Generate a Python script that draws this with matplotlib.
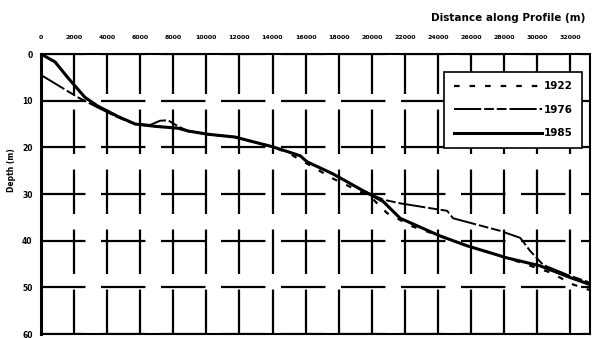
import matplotlib.pyplot as plt

# survey profiles: distance along profile (m) vs depth (m)
dist_1922 = [0, 850, 1630, 2660, 3450, 4660, 5690, 6900, 8290, 8890, 10100, 11740, 12600,
             14030, 15000, 16090, 17660, 19900, 20930, 22500, 24140, 25770, 28190, 30790, 32180, 33200]
depth_1922 = [0, 1.7, 5.1, 9.3, 11.2, 13.4, 15.0, 15.5, 15.9, 16.5, 17.2, 17.8, 18.6,
              19.9, 21.3, 23.5, 26.7, 30.5, 34.1, 37.0, 39.0, 41.1, 43.7, 46.8, 49.4, 50.6]

dist_1976 = [0, 2240, 3450, 4660, 5690, 6600, 7200, 7680, 8290, 8890, 10100, 11740, 12600,
             14030, 15670, 16090, 17660, 19480, 20690, 21720, 24000, 24560, 24920, 27770,
             28980, 29580, 30370, 31820, 33200]
depth_1976 = [4.5, 9.3, 11.5, 13.6, 15.0, 15.2, 14.3, 14.2, 15.5, 16.5, 17.2, 17.8, 18.6,
              19.9, 21.8, 23.1, 25.7, 29.3, 31.2, 32.0, 33.3, 33.6, 35.2, 37.9,
              39.4, 42.2, 45.2, 47.3, 49.0]

dist_1985 = [0, 850, 1630, 2660, 3450, 4660, 5690, 6900, 8290, 8890, 10100, 11740, 12600,
             14030, 15670, 16090, 17660, 19480, 20690, 21720, 24140, 25770, 28190, 30190, 32000, 33200]
depth_1985 = [0, 1.7, 5.1, 9.3, 11.2, 13.4, 15.0, 15.5, 15.9, 16.5, 17.2, 17.8, 18.6,
              19.9, 21.8, 23.1, 25.7, 29.3, 31.6, 35.2, 39.0, 41.1, 43.7, 45.4, 47.9, 49.4]

x_ticks = list(range(0, 32001, 2000))
y_ticks = [0, 10, 20, 30, 40, 50, 60]

fig = plt.figure(figsize=(5.93, 3.38), dpi=100)
ax = fig.add_axes([41 / 593, 4 / 338, 549 / 593, 280 / 338])

ax.plot(dist_1922, depth_1922, color='black', lw=1.6, linestyle=(0, (2.5, 4.5)), label='1922')
ax.plot(dist_1976, depth_1976, color='black', lw=1.4, linestyle=(0, (14, 1.5, 5, 1.5, 5, 1.5)),
        label='1976')
ax.plot(dist_1985, depth_1985, color='black', lw=2.2, linestyle='-', label='1985')

ax.set_xlim(0, 33200)
ax.set_ylim(60, 0)
ax.set_xticks(x_ticks)
ax.set_yticks(y_ticks)
ax.xaxis.tick_top()
ax.tick_params(axis='x', which='both', top=True, bottom=True, direction='in', length=4,
               width=1.2, labelsize=4.5, pad=10)
ax.tick_params(axis='y', direction='out', length=0, labelsize=5.5, pad=6)
for lab in ax.get_xticklabels() + ax.get_yticklabels():
    lab.set_fontweight('bold')

ax.grid(True, color='black', lw=1.6, linestyle=(0, (20, 7)))
for s in ax.spines.values():
    s.set_linewidth(1.5)
ax.spines['left'].set_linewidth(2.2)

fig.text(585 / 593, 1 - 18 / 338, 'Distance along Profile (m)', ha='right', va='center',
         fontsize=7.5, fontweight='bold')
fig.text(12 / 593, 1 - 170 / 338, 'Depth (m)', rotation=90, ha='center', va='center',
         fontsize=5.5, fontweight='bold')

leg = ax.legend(loc='upper right', bbox_to_anchor=(0.985, 0.936), fontsize=7.5,
                handlelength=8.5, handletextpad=0.1, labelspacing=1.3, borderpad=0.9,
                fancybox=False, framealpha=1, edgecolor='black', borderaxespad=0)
leg.get_frame().set_linewidth(1.2)
for t in leg.get_texts():
    t.set_fontweight('bold')

fig.savefig('out.png', dpi=100)
